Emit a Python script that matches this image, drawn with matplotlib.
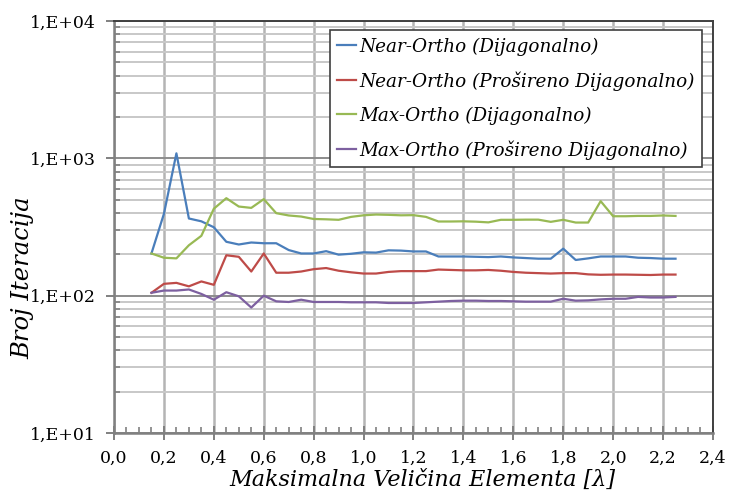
import numpy as np
import matplotlib
matplotlib.use("Agg")
import matplotlib.pyplot as plt
from matplotlib.ticker import FixedLocator, FuncFormatter, LogLocator, NullFormatter

plt.rcParams['font.family'] = ['DejaVu Serif']

# --- data ---
x_vals = [0.15, 0.20, 0.25, 0.30, 0.35, 0.40, 0.45, 0.50, 0.55, 0.60,
          0.65, 0.70, 0.75, 0.80, 0.85, 0.90, 0.95, 1.00, 1.05, 1.10,
          1.15, 1.20, 1.25, 1.30, 1.35, 1.40, 1.45, 1.50, 1.55, 1.60,
          1.65, 1.70, 1.75, 1.80, 1.85, 1.90, 1.95, 2.00, 2.05, 2.10,
          2.15, 2.20, 2.25]

near_diag = [203, 395, 1088, 365, 348, 315, 247, 236, 244, 241,
             241, 215, 203, 203, 211, 199, 202, 207, 206, 214,
             213, 210, 210, 193, 193, 193, 192, 191, 193, 190,
             188, 186, 186, 220, 182, 187, 193, 193, 193, 189,
             188, 186, 186]

near_ext = [105, 122, 124, 117, 127, 120, 197, 192, 150, 203,
            147, 147, 150, 156, 159, 152, 148, 145, 145, 149,
            151, 151, 151, 155, 154, 153, 153, 154, 152, 149,
            147, 146, 145, 146, 146, 143, 142, 142.5, 142.5, 142,
            141.5, 142.5, 142.5]

max_diag = [203, 189, 187, 233, 273, 430, 513, 446, 436, 505,
            399, 384, 377, 362, 360, 357, 375, 385, 390, 388,
            385, 386, 375, 347, 347, 348, 346, 342, 357, 357,
            358, 358, 345, 357, 341, 341, 488, 379, 379, 381,
            381, 384, 381]

max_ext = [105, 109, 109, 111, 103, 93.5, 106, 99, 82, 100,
           91, 90, 93.5, 90, 90, 90, 89.5, 89.5, 89.5, 88.5,
           88.5, 88.5, 89.5, 90.5, 91.5, 92, 92, 91.5, 91.5, 91,
           90.5, 90.5, 90.5, 95, 92, 92.5, 94, 95, 95, 98,
           97, 97, 98]

labels = ["Near-Ortho (Dijagonalno)",
          "Near-Ortho (Prošireno Dijagonalno)",
          "Max-Ortho (Dijagonalno)",
          "Max-Ortho (Prošireno Dijagonalno)"]
colors = ["#4A7EBB", "#BE4B48", "#98B954", "#7D60A0"]

# --- plot ---
fig = plt.figure(figsize=(7.29, 4.90), dpi=100)
ax = fig.add_axes([0.1564, 0.1163, 0.8216, 0.8407])

for ys, lab, c in zip([near_diag, near_ext, max_diag, max_ext], labels, colors):
    ax.plot(x_vals, ys, color=c, lw=1.6, label=lab, zorder=3)

ax.set_yscale('log')
ax.set_ylim(10, 10000)
ax.set_xlim(0, 2.4)

ax.xaxis.set_major_locator(FixedLocator(np.arange(0, 2.41, 0.2)))
ax.xaxis.set_minor_locator(FixedLocator(np.arange(0, 2.41, 0.05)))
ax.xaxis.set_major_formatter(FuncFormatter(lambda v, p: f"{v:.1f}".replace('.', ',')))
ax.yaxis.set_major_locator(FixedLocator([10, 100, 1000, 10000]))
ax.yaxis.set_minor_locator(LogLocator(base=10, subs=np.arange(2, 10)))
ax.yaxis.set_minor_formatter(NullFormatter())
ax.yaxis.set_major_formatter(FuncFormatter(lambda v, p: "1,E+%02d" % int(round(np.log10(v)))))

ax.tick_params(axis='both', which='major', labelsize=12.5, color='#808080',
               width=1.4, length=6, pad=7)
ax.tick_params(axis='x', which='major', direction='inout', length=10)
ax.tick_params(axis='x', which='minor', direction='in', length=4, color='#808080', width=1.2)
ax.tick_params(axis='y', which='minor', direction='in', length=4, color='#808080', width=1.2)
ax.tick_params(axis='y', which='major', direction='out', length=6)

# gridlines
ax.xaxis.grid(True, which='major', color='#B4B4B4', lw=1.8, zorder=0)
ax.yaxis.grid(True, which='major', color='#8C8C8C', lw=1.4, zorder=0)
ax.yaxis.grid(True, which='minor', color='#C8C8C8', lw=1.4, zorder=0)
ax.set_axisbelow(True)

for s in ['left', 'bottom']:
    ax.spines[s].set_color('#808080')
    ax.spines[s].set_linewidth(1.8)
for s in ['top', 'right']:
    ax.spines[s].set_color('#404040')
    ax.spines[s].set_linewidth(1.4)

ax.set_xlabel("Maksimalna Veličina Elementa [λ]", fontsize=16, style='italic')
ax.set_ylabel("Broj Iteracija", fontsize=17.5, style='italic')
ax.xaxis.set_label_coords(0.514, -0.086)
ax.yaxis.set_label_coords(-0.133, 0.376)

leg = ax.legend(loc='upper right', bbox_to_anchor=(0.982, 0.978),
                handlelength=1.0, handletextpad=0.2, borderpad=0.4, labelspacing=0.85,
                borderaxespad=0, fancybox=False, framealpha=1, edgecolor='#404040',
                prop={'style': 'italic', 'size': 13.2})
leg.get_frame().set_linewidth(1.2)

fig.savefig("out.png", dpi=100)
